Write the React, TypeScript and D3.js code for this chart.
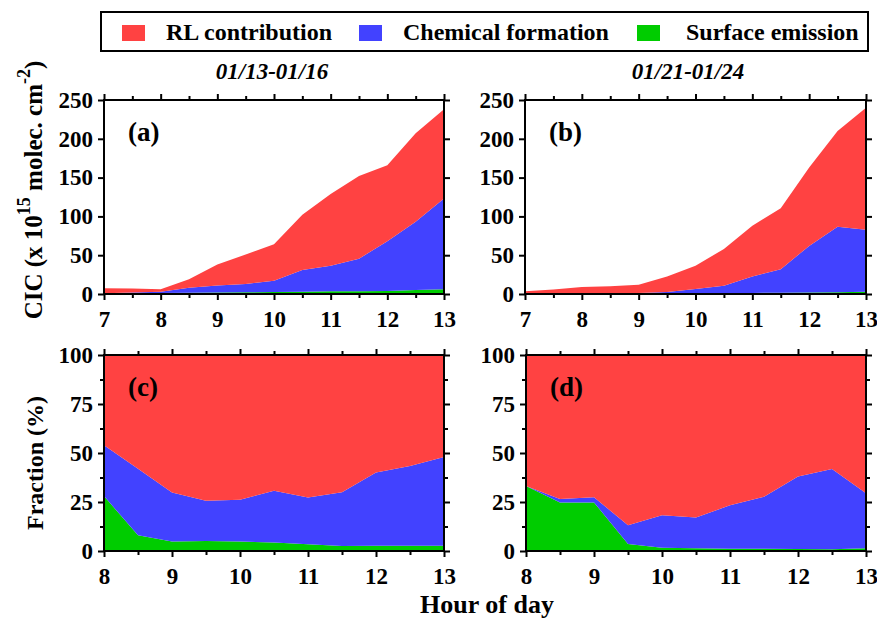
import { useEffect, useRef } from 'react';
import * as d3 from 'd3';

// hours of day used by the two upper (absolute) panels and the two lower (fraction) panels
const hoursTop = [7, 7.5, 8, 8.5, 9, 9.5, 10, 10.5, 11, 11.5, 12, 12.5, 13];
const hoursBottom = [8, 8.5, 9, 9.5, 10, 10.5, 11, 11.5, 12, 12.5, 13];

// (a) 01/13-01/16, CIC in 10^15 molec. cm^-2
const surfaceA = [0.5, 0.8, 1.3, 1.6, 1.9, 2.2, 2.6, 3, 3.4, 3.6, 3.9, 5, 6];
const chemicalA = [0.5, 1.2, 1.7, 6.4, 9.1, 10.8, 14.4, 28, 33.1, 41.9, 64.1, 88, 117];
const rlA = [6.3, 5, 3, 11, 27, 38, 47, 71, 92.5, 106.5, 98, 114, 115];

// (b) 01/21-01/24
const surfaceB = [0.3, 0.4, 0.5, 0.6, 0.7, 0.8, 1, 1.2, 1.4, 1.6, 1.9, 2.2, 2.8];
const chemicalB = [0.5, 0.4, 0.3, 0.4, 0.6, 1.8, 5.4, 9.5, 21.3, 30.4, 60.1, 84.4, 80];
const rlB = [2.6, 5, 8.2, 9, 10.7, 20.1, 30.1, 47.3, 65.3, 78.6, 101, 123.4, 157.2];

// (c) fractions (%) 01/13-01/16
const surfaceC = [28, 8, 4.9, 5.1, 4.9, 4.3, 3.4, 2.6, 2.7, 2.7, 2.7];
const chemicalC = [26, 34, 24.9, 20.5, 21.3, 26.4, 23.9, 27.4, 37.3, 40.7, 45.3];
const rlC = [46, 58, 70.2, 74.4, 73.8, 69.3, 72.7, 70, 60, 56.6, 52];

// (d) fractions (%) 01/21-01/24
const surfaceD = [33.2, 24.8, 24.8, 3.6, 1.7, 1.4, 1.2, 1.2, 1.0, 0.9, 1.4];
const chemicalD = [0, 1.7, 2.6, 9.6, 16.5, 15.7, 22.1, 26.5, 37, 40.9, 28.1];
const rlD = [66.8, 73.5, 72.6, 86.8, 81.8, 82.9, 76.7, 72.3, 62, 58.2, 70.5];

const legendLabels = ['RL contribution', 'Chemical formation', 'Surface emission'];
const periodLabels = ['01/13-01/16', '01/21-01/24'];
const cicTicks = [0, 50, 100, 150, 200, 250];
const fracTicks = [0, 25, 50, 75, 100];
const fracMinorTicks = [12.5, 37.5, 62.5, 87.5];

const colors = { rl: '#ff4242', chemical: '#4242ff', surface: '#00cc00' };
const FONT = '"Liberation Serif", "Times New Roman", serif';

const panels = [
  { id: '(a)', hours: hoursTop, s: surfaceA, c: chemicalA, r: rlA, ymax: 250, ticks: cicTicks, minor: [], x0: 104, x1: 444, y0: 100, y1: 294 },
  { id: '(b)', hours: hoursTop, s: surfaceB, c: chemicalB, r: rlB, ymax: 250, ticks: cicTicks, minor: [], x0: 525, x1: 866, y0: 100, y1: 294 },
  { id: '(c)', hours: hoursBottom, s: surfaceC, c: chemicalC, r: rlC, ymax: 100, ticks: fracTicks, minor: fracMinorTicks, x0: 104, x1: 444, y0: 355, y1: 551 },
  { id: '(d)', hours: hoursBottom, s: surfaceD, c: chemicalD, r: rlD, ymax: 100, ticks: fracTicks, minor: fracMinorTicks, x0: 526, x1: 866, y0: 355, y1: 551 },
];

const styleAxis = (g: any, size = 23) => {
  g.select('.domain').remove();
  g.attr('font-family', FONT);
  g.selectAll('line').attr('stroke', '#000').attr('stroke-width', 2);
  g.selectAll('text').attr('font-size', size).attr('font-weight', 'bold').attr('fill', '#000');
};

function drawPanel(svg: any, p: any) {
  const x = d3.scaleLinear().domain([p.hours[0], 13]).range([p.x0, p.x1]);
  const y = d3.scaleLinear().domain([0, p.ymax]).range([p.y1, p.y0]);
  const rows = p.hours.map((h: number, i: number) => ({ hour: h, surface: p.s[i], chemical: p.c[i], rl: p.r[i] }));
  const series = d3.stack().keys(['surface', 'chemical', 'rl'])(rows);
  const area = d3.area<any>()
    .x(d => x(d.data.hour))
    .y0(d => y(d[0]))
    .y1(d => y(d[1]));

  const g = svg.append('g');
  g.selectAll('path.layer')
    .data(series)
    .join('path')
    .attr('class', 'layer')
    .attr('d', area)
    .attr('fill', (d: any) => colors[d.key as keyof typeof colors]);

  const majorX = d3.range(p.hours[0], 13.01, 1);
  const minorX = d3.range(p.hours[0] + 0.5, 13, 1);

  g.append('g').attr('transform', `translate(0,${p.y1})`)
    .call(d3.axisBottom(x).tickValues(majorX).tickSize(6).tickPadding(11).tickFormat(d3.format('d')))
    .call(styleAxis);
  g.append('g').attr('transform', `translate(0,${p.y1})`)
    .call(d3.axisBottom(x).tickValues(minorX).tickSize(4).tickFormat(() => ''))
    .call(styleAxis);
  g.append('g').attr('transform', `translate(0,${p.y0})`)
    .call(d3.axisTop(x).tickValues(majorX).tickSize(6).tickFormat(() => ''))
    .call(styleAxis);
  g.append('g').attr('transform', `translate(0,${p.y0})`)
    .call(d3.axisTop(x).tickValues(minorX).tickSize(4).tickFormat(() => ''))
    .call(styleAxis);

  g.append('g').attr('transform', `translate(${p.x0},0)`)
    .call(d3.axisLeft(y).tickValues(p.ticks).tickSize(6).tickPadding(5))
    .call(styleAxis);
  g.append('g').attr('transform', `translate(${p.x1},0)`)
    .call(d3.axisRight(y).tickValues(p.ticks).tickSize(6).tickFormat(() => ''))
    .call(styleAxis);
  if (p.minor.length) {
    g.append('g').attr('transform', `translate(${p.x0},0)`)
      .call(d3.axisLeft(y).tickValues(p.minor).tickSize(4).tickFormat(() => ''))
      .call(styleAxis);
    g.append('g').attr('transform', `translate(${p.x1},0)`)
      .call(d3.axisRight(y).tickValues(p.minor).tickSize(4).tickFormat(() => ''))
      .call(styleAxis);
  }

  // frame
  g.append('rect')
    .attr('x', p.x0).attr('y', p.y0)
    .attr('width', p.x1 - p.x0).attr('height', p.y1 - p.y0)
    .attr('fill', 'none').attr('stroke', '#000').attr('stroke-width', 2);

  g.append('text')
    .attr('x', p.x0 + 24).attr('y', p.y0 + 41)
    .attr('font-family', FONT).attr('font-size', 27).attr('font-weight', 'bold')
    .text(p.id);
}

export default function App() {
  const svgRef = useRef<SVGSVGElement>(null);

  useEffect(() => {
    const svg = d3.select(svgRef.current);
    svg.selectAll('*').remove();

    panels.forEach(p => drawPanel(svg, p));

    // legend
    const legend = svg.append('g');
    legend.append('rect')
      .attr('x', 101).attr('y', 12).attr('width', 767).attr('height', 39)
      .attr('fill', '#fff').attr('stroke', '#000').attr('stroke-width', 2);
    const keys = ['rl', 'chemical', 'surface'];
    const squareX = [122, 359, 637];
    const textX = [166, 403, 686];
    keys.forEach((k, i) => {
      legend.append('rect')
        .attr('x', squareX[i]).attr('y', 25).attr('width', 23).attr('height', 16)
        .attr('fill', colors[k as keyof typeof colors]);
      legend.append('text')
        .attr('x', textX[i]).attr('y', 40)
        .attr('font-family', FONT).attr('font-size', 24).attr('font-weight', 'bold')
        .text(legendLabels[i]);
    });

    // period titles
    [272, 688].forEach((cx, i) => {
      svg.append('text')
        .attr('x', cx).attr('y', 79).attr('text-anchor', 'middle')
        .attr('font-family', FONT).attr('font-size', 23).attr('font-weight', 'bold').attr('font-style', 'italic')
        .text(periodLabels[i]);
    });

    // y axis titles
    const cic = svg.append('text')
      .attr('transform', 'translate(42,190) rotate(-90)')
      .attr('text-anchor', 'middle')
      .attr('font-family', FONT).attr('font-size', 25).attr('font-weight', 'bold');
    cic.append('tspan').text('CIC (x 10');
    cic.append('tspan').attr('dy', -12).attr('font-size', 18).text('15');
    cic.append('tspan').attr('dy', 12).text(' molec. cm');
    cic.append('tspan').attr('dy', -12).attr('font-size', 18).text('-2');
    cic.append('tspan').attr('dy', 12).text(')');

    svg.append('text')
      .attr('transform', 'translate(43,463) rotate(-90)')
      .attr('text-anchor', 'middle')
      .attr('font-family', FONT).attr('font-size', 24).attr('font-weight', 'bold')
      .text('Fraction (%)');

    svg.append('text')
      .attr('x', 487).attr('y', 613).attr('text-anchor', 'middle')
      .attr('font-family', FONT).attr('font-size', 26).attr('font-weight', 'bold')
      .text('Hour of day');
  }, []);

  return (
    <svg ref={svgRef} width={877} height={622}
      style={{ position: 'absolute', left: 0, top: 0, background: '#fff' }} />
  );
}
